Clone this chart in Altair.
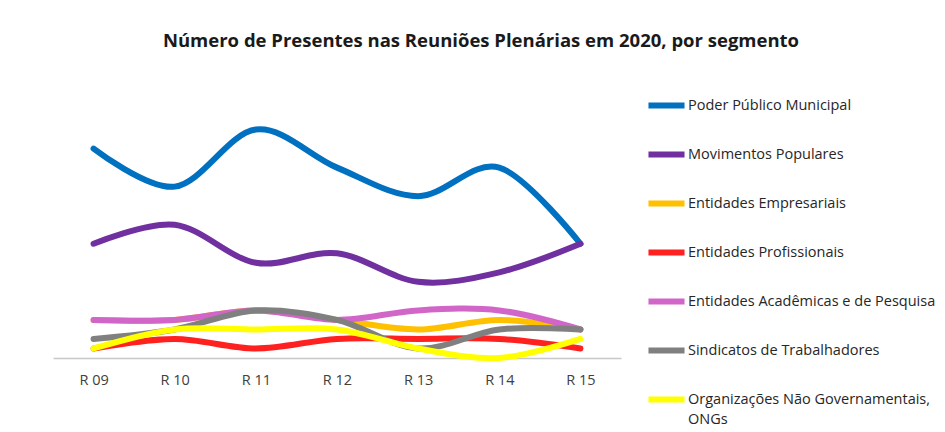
import altair as alt
import pandas as pd

rounds = ["R 09", "R 10", "R 11", "R 12", "R 13", "R 14", "R 15"]
series_names = [
    "Poder Público Municipal",
    "Movimentos Populares",
    "Entidades Empresariais",
    "Entidades Profissionais",
    "Entidades Acadêmicas e de Pesquisa",
    "Sindicatos de Trabalhadores",
    "Organizações Não Governamentais, ONGs",
]
poder_publico = [22, 18, 24, 20, 17, 20, 12]
movimentos = [12, 14, 10, 11, 8, 9, 12]
empresariais = [4, 4, 5, 4, 3, 4, 3]
profissionais = [1, 2, 1, 2, 2, 2, 1]
academicas = [4, 4, 5, 4, 5, 5, 3]
sindicatos = [2, 3, 5, 4, 1, 3, 3]
ongs = [1, 3, 3, 3, 1, 0, 2]
colors = ["#0070C0", "#7030A0", "#FFC000", "#FF2020", "#D266C8", "#808080", "#FFFF00"]

values = [poder_publico, movimentos, empresariais, profissionais, academicas, sindicatos, ongs]
rows = []
for name, vals in zip(series_names, values):
    for r, v in zip(rounds, vals):
        rows.append({"Reunião": r, "Segmento": name, "Presentes": v})
df = pd.DataFrame(rows)

label_expr = ("datum.label == 'Organizações Não Governamentais, ONGs' ? "
              "['Organizações Não Governamentais,', 'ONGs'] : datum.label")

chart = alt.Chart(df).mark_line(
    interpolate="cardinal", strokeWidth=6, strokeCap="round"
).encode(
    x=alt.X("Reunião:N", sort=rounds, title=None,
            scale=alt.Scale(type="point", padding=0.5),
            axis=alt.Axis(labelAngle=0, tickSize=0, labelPadding=15,
                          domainColor="#c8c8c8", domainWidth=1.5,
                          labelFont="Open Sans", labelFontSize=14.5,
                          labelColor="#404040", grid=False)),
    y=alt.Y("Presentes:Q", title=None, scale=alt.Scale(domain=[0, 25]),
            axis=None),
    color=alt.Color("Segmento:N", sort=series_names,
                    scale=alt.Scale(domain=series_names, range=colors),
                    legend=alt.Legend(title=None, orient="none",
                                      legendX=592, legendY=-36,
                                      symbolType="stroke", symbolStrokeWidth=6,
                                      symbolSize=1300, labelFont="Open Sans",
                                      labelFontSize=14.5, labelColor="#262626",
                                      labelOffset=0, rowPadding=15,
                                      labelLimit=400, labelExpr=label_expr,
                                      padding=0)),
).properties(
    width=568,
    height=238,
    title=alt.TitleParams(
        "Número de Presentes nas Reuniões Plenárias em 2020, por segmento",
        anchor="middle", frame="group", dx=144, offset=34,
        font="Open Sans", fontSize=18.5, fontWeight="bold", color="#1a1a1a"),
    autosize=alt.AutoSizeParams(type="none"),
    padding={"left": 45, "top": 112, "right": 316, "bottom": 71},
).configure(
    view={"stroke": None},
    style={"guide-label": {"lineHeight": 20}},
)

chart.save("out.html", embed_options={"renderer": "svg", "actions": False})
